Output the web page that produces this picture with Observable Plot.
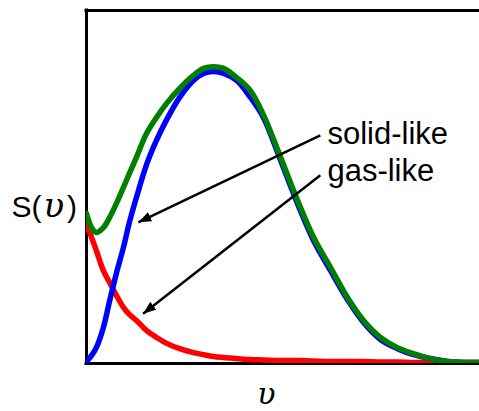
<!DOCTYPE html>
<html>
<head>
<meta charset="utf-8">
<script src="https://cdn.jsdelivr.net/npm/d3@7"></script>
<script src="https://cdn.jsdelivr.net/npm/@observablehq/plot@0.6"></script>
<style>
  body { margin: 0; background: #fff; }
  #chart svg { display: block; overflow: visible; }
</style>
</head>
<body>
<div id="chart"></div>
<script>
// frequency axis (arbitrary units, 0–100 across the frame)
const nu = [0, 1.3, 2.5, 4.3, 5.9, 7.6, 9.4, 10.9, 12.7, 15.3, 17.8, 20.4, 23.7, 27.2, 29.8,
  32.3, 34.9, 38.2, 41.7, 45.0, 49.4, 53.7, 57.8, 62.1, 66.4, 70.5, 74.8, 79.1, 83.2,
  87.5, 91.9, 95.9, 100];

// gas-like component: decays from a finite value at zero frequency
const gasLike = [39.4, 35.7, 32.0, 26.3, 22.9, 19.3, 15.9, 13.9, 12.2, 9.3, 7.4, 5.7, 4.2, 3.1, 2.5,
  2.0, 1.7, 1.4, 1.1, 1.0, 0.85, 0.85, 0.7, 0.57, 0.57, 0.57, 0.42, 0.42, 0.28,
  0.28, 0.28, 0.28, 0.28];

// solid-like component: vanishes at zero frequency, single broad peak
const solidLike = [0.57, 2.3, 4.5, 10.2, 17.8, 25.5, 32.9, 39.9, 47.0, 56.4, 63.2, 69.1, 75.4, 80.2, 82.2,
  82.7, 82.2, 80.2, 75.4, 69.7, 57.5, 45.3, 34.8, 26.3, 18.1, 11.6, 6.8, 4.2, 2.5,
  1.4, 0.57, 0.28, 0.28];

// total density of states S(υ)
const total = [42.5, 38.5, 37.1, 38.5, 41.4, 45.3, 49.9, 53.8, 58.4, 65.2, 69.7, 73.7, 77.9, 81.6, 83.6,
  84.1, 83.6, 81.0, 77.3, 70.5, 58.4, 46.2, 35.7, 27.2, 18.7, 12.2, 7.4, 4.5, 2.8,
  1.4, 0.57, 0.28, 0.28];

// annotation arrows: from label to curve
const arrows = [
  {name: "solid-like", x1: 59.5, y1: 64.6, x2: 13.2, y2: 40.0},
  {name: "gas-like",   x1: 59.5, y1: 53.3, x2: 14.4, y2: 14.1}
];

// annotation labels (positions in data units; y is the baseline)
const labels = [
  {text: "solid-like", x: 61.3, y: 62.3},
  {text: "gas-like",   x: 61.3, y: 51.6}
];

// axis titles
const yTitle = {symbol: "S", arg: "υ", x: -19.1, y: 41.4};
const xTitle = {text: "υ", x: 45.8, y: -11.6};

const sans = "'Liberation Sans', Arial, Helvetica, sans-serif";
const serif = "'DejaVu Serif', 'Liberation Serif', serif";

// filled triangular arrowhead
function arrowHead(color) {
  const m = d3.create("svg:marker")
    .attr("viewBox", "-13 -5 13 10")
    .attr("markerWidth", 13)
    .attr("markerHeight", 10)
    .attr("markerUnits", "userSpaceOnUse")
    .attr("refX", 0)
    .attr("refY", 0)
    .attr("orient", "auto");
  m.append("path").attr("d", "M-13,-5L0,0L-13,5Z").attr("fill", color).attr("stroke", "none");
  return m.node();
}

const curveOpts = (color) => ({
  x: (d, i) => nu[i],
  y: d => d,
  stroke: color,
  strokeWidth: 5.5,
  curve: "catmull-rom",
  clip: true
});

const yTitleText = `${yTitle.symbol}(${yTitle.arg})`;

const chart = Plot.plot({
  width: 479,
  height: 411,
  marginLeft: 86,
  marginRight: 0,
  marginTop: 10,
  marginBottom: 48,
  x: {domain: [0, 100], axis: null},
  y: {domain: [0, 100], axis: null},
  style: {background: "white", fontFamily: sans},
  marks: [
    // frame: left, bottom, top
    Plot.ruleX([0], {stroke: "black", strokeWidth: 3, strokeLinecap: "square"}),
    Plot.ruleY([0, 100], {stroke: "black", strokeWidth: 3, strokeLinecap: "square"}),
    Plot.line(gasLike, curveOpts("#ff0000")),
    Plot.line(solidLike, curveOpts("#0000ff")),
    Plot.line(total, curveOpts("#008000")),
    Plot.link(arrows, {x1: "x1", y1: "y1", x2: "x2", y2: "y2", stroke: "black", strokeWidth: 2.5, markerEnd: arrowHead}),
    Plot.text(labels, {x: "x", y: "y", text: "text", textAnchor: "start", lineAnchor: "bottom",
      fontSize: 31, fill: "black", fontFamily: sans}),
    // y-axis title S(υ)
    Plot.text([yTitle], {x: "x", y: "y", text: () => yTitleText, textAnchor: "start", lineAnchor: "bottom",
      fontSize: 30, fill: "black", fontFamily: sans}),
    // x-axis title υ
    Plot.text([xTitle], {x: "x", y: "y", text: "text", textAnchor: "middle", lineAnchor: "bottom",
      fontSize: 30, fill: "black", fontFamily: serif, fontStyle: "italic"})
  ]
});

// set the argument of S(υ) in italic serif
d3.select(chart).selectAll("text")
  .filter(function() { return this.textContent === yTitleText; })
  .each(function() {
    const t = d3.select(this).text(null);
    t.append("tspan").text(yTitle.symbol + "(");
    t.append("tspan").attr("dx", 2).attr("font-family", serif).attr("font-style", "italic")
      .attr("font-size", 34).text(yTitle.arg);
    t.append("tspan").attr("dx", 3).text(")");
  });

document.getElementById("chart").appendChild(chart);
</script>
</body>
</html>
